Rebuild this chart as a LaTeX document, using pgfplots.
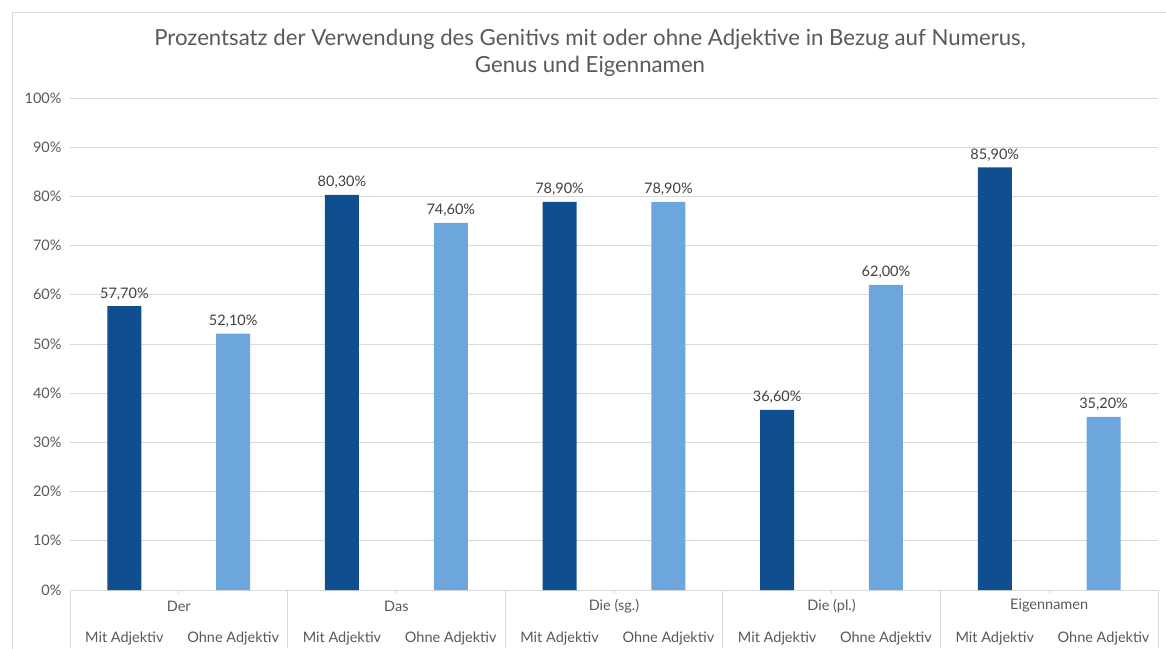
\documentclass[border=0pt]{standalone}
\usepackage{pgfplots}
\pgfplotsset{compat=1.18}
\usepackage{fontspec}
\setmainfont{Lato}
\definecolor{dunkel}{HTML}{0F4F8F}
\definecolor{hell}{HTML}{6CA6DC}
\definecolor{txt}{HTML}{595959}
\definecolor{wert}{HTML}{404040}
\definecolor{gitter}{HTML}{D9D9D9}

\pgfplotstableread{
x y label
0 57.7 57,70
2 80.3 80,30
4 78.9 78,90
6 36.6 36,60
8 85.9 85,90
}\mit
\pgfplotstableread{
x y label
1 52.1 52,10
3 74.6 74,60
5 78.9 78,90
7 62.0 62,00
9 35.2 35,20
}\ohne

\begin{document}
\begin{tikzpicture}[x=1pt,y=1pt]
\useasboundingbox (-70,-58) rectangle (1096,590);
\draw[gitter] (-58,-80) rectangle (1110,578);
\node[align=center, font=\fontsize{22.2}{27}\selectfont, text=txt] at (520,537.5)
  {Prozentsatz der Verwendung des Genitivs mit oder ohne Adjektive in Bezug auf Numerus,\\Genus und Eigennamen};
\begin{axis}[
  width=1088pt, height=492pt, scale only axis,
  xmin=-0.5, xmax=9.5, ymin=0, ymax=100,
  ytick={0,10,...,100},
  yticklabel={\pgfmathprintnumber{\tick}\%},
  /pgf/number format/assume math mode=true,
  xtick={0,...,9},
  xticklabels={Mit Adjektiv,Ohne Adjektiv,Mit Adjektiv,Ohne Adjektiv,Mit Adjektiv,Ohne Adjektiv,Mit Adjektiv,Ohne Adjektiv,Mit Adjektiv,Ohne Adjektiv},
  ticklabel style={font=\fontsize{14.5}{16}\selectfont, text=txt},
  xticklabel style={anchor=center, yshift=-44pt},
  yticklabel style={xshift=-5pt},
  ymajorgrids, grid style={gitter, line width=0.8pt},
  axis line style={draw=none}, major tick style={draw=none},
  ybar, bar width=34pt, bar shift=0pt,
  clip=false,
  nodes near coords={\pgfplotspointmeta\%},
  point meta=explicit symbolic,
  every node near coord/.append style={font=\fontsize{14.5}{16}\selectfont, text=wert, yshift=2.5pt},
]
\addplot[fill=dunkel, draw=none] table[x=x, y=y, meta=label] {\mit};
\addplot[fill=hell, draw=none] table[x=x, y=y, meta=label] {\ohne};
\draw[gitter, line width=0.8pt] (axis cs:-0.5,0) -- ++(0pt,-58pt);
\draw[gitter, line width=0.8pt] (axis cs:1.5,0) -- ++(0pt,-58pt);
\draw[gitter, line width=0.8pt] (axis cs:3.5,0) -- ++(0pt,-58pt);
\draw[gitter, line width=0.8pt] (axis cs:5.5,0) -- ++(0pt,-58pt);
\draw[gitter, line width=0.8pt] (axis cs:7.5,0) -- ++(0pt,-58pt);
\draw[gitter, line width=0.8pt] (axis cs:9.5,0) -- ++(0pt,-58pt);
\draw[gitter, line width=0.8pt] (axis cs:0.5,0) -- ++(0pt,-4pt);
\draw[gitter, line width=0.8pt] (axis cs:2.5,0) -- ++(0pt,-4pt);
\draw[gitter, line width=0.8pt] (axis cs:4.5,0) -- ++(0pt,-4pt);
\draw[gitter, line width=0.8pt] (axis cs:6.5,0) -- ++(0pt,-4pt);
\draw[gitter, line width=0.8pt] (axis cs:8.5,0) -- ++(0pt,-4pt);
\node[font=\fontsize{14.5}{16}\selectfont, text=txt] at (axis cs:0.5,0) [yshift=-16pt] {Der};
\node[font=\fontsize{14.5}{16}\selectfont, text=txt] at (axis cs:2.5,0) [yshift=-16pt] {Das};
\node[font=\fontsize{14.5}{16}\selectfont, text=txt] at (axis cs:4.5,0) [yshift=-16pt] {Die (sg.)};
\node[font=\fontsize{14.5}{16}\selectfont, text=txt] at (axis cs:6.5,0) [yshift=-16pt] {Die (pl.)};
\node[font=\fontsize{14.5}{16}\selectfont, text=txt] at (axis cs:8.5,0) [yshift=-16pt] {Eigennamen};
\end{axis}
\end{tikzpicture}
\end{document}
